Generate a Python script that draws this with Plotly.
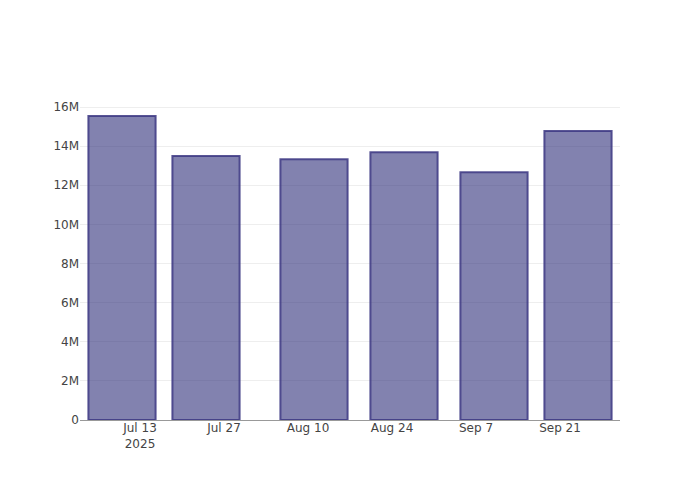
import plotly.graph_objects as go

dates = ["2025-07-10", "2025-07-24", "2025-08-11", "2025-08-26", "2025-09-10", "2025-09-24"]
values = [15540000, 13490000, 13330000, 13690000, 12670000, 14770000]

fig = go.Figure(go.Bar(
    x=dates, y=values,
    marker=dict(color="rgba(47,47,122,0.6)",
                line=dict(color="rgba(60,55,130,0.85)", width=2)),
))
fig.update_layout(
    width=700, height=500,
    margin=dict(l=72, r=88, t=92, b=88),
    paper_bgcolor="white", plot_bgcolor="white",
    font=dict(family="DejaVu Sans", size=12, color="#444"),
    showlegend=False,
    xaxis=dict(showgrid=False, showline=True, linecolor="#999", linewidth=1,
               ticks="", tickformat="%b %-d\n%Y", dtick=14*24*3600*1000,
               tick0="2025-07-13", ticklabelstandoff=-3),
    yaxis=dict(showgrid=True, gridcolor="#eee", zeroline=False, ticks="",
               tickformat="~s"),
)
fig.write_html("out.html")
